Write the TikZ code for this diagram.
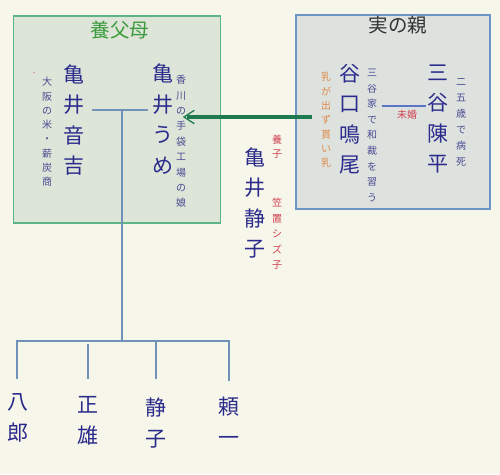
\documentclass[tikz,border=0pt]{standalone}
\usepackage{fontspec}
\setmainfont{Noto Sans CJK JP}
\usetikzlibrary{arrows.meta}
\definecolor{bg}{HTML}{F6F6EA}
\definecolor{navy}{HTML}{2B2B8C}
\definecolor{descblue}{HTML}{4A4A92}
\definecolor{redtxt}{HTML}{D0404E}
\definecolor{orangetxt}{HTML}{E08A48}
\definecolor{greentitle}{HTML}{3C9A3C}
\definecolor{lboxfill}{HTML}{DCE5D8}
\definecolor{lboxline}{HTML}{5DB585}
\definecolor{rboxfill}{HTML}{DDE2DF}
\definecolor{rboxline}{HTML}{6C95C5}
\definecolor{treeline}{HTML}{7091B8}
\definecolor{arrowgreen}{HTML}{1F7A50}
\tikzset{
  bigname/.style={font=\fontsize{21}{30.5}\selectfont, text=navy, align=center, inner sep=0pt},
  desc/.style={font=\fontsize{10}{#1}\selectfont, text=descblue, align=center, inner sep=0pt},
  reddesc/.style={font=\fontsize{10}{#1}\selectfont, text=redtxt, align=center, inner sep=0pt},
  orangedesc/.style={font=\fontsize{10}{#1}\selectfont, text=orangetxt, align=center, inner sep=0pt},
  titletext/.style={font=\fontsize{19.5}{22}\selectfont, inner sep=0pt},
  tree/.style={draw=treeline, line width=1.4pt},
  couple/.style={draw=treeline!80!blue, line width=1.1pt},
}
\begin{document}
\begin{tikzpicture}[x=1pt,y=-1pt]
\useasboundingbox[fill=bg] (0,0) rectangle (500,474);
% boxes
\node[draw=lboxline, fill=lboxfill, line width=1.3pt, minimum width=207pt, minimum height=207pt, inner sep=0pt] (fosterbox) at (117,119.5) {};
\node[draw=rboxline, fill=rboxfill, line width=1.3pt, minimum width=194pt, minimum height=194pt, inner sep=0pt] (realbox) at (393,112) {};
% titles
\node[titletext, text=greentitle] (fosterttl) at (120,30) {養父母};
\node[titletext, text=black!80] (realttl) at (398,25) {実の親};
% foster parents
\node[bigname] (otokichi) at (74,120) {亀\\井\\音\\吉};
\node[desc=14.3] (otokichidesc) at (47,132) {大\\阪\\の\\米\\・\\薪\\炭\\商};
\node[font=\fontsize{6}{6}\selectfont, text=redtxt, inner sep=0pt] (redmark) at (36,73) {、};
\node[bigname] (ume) at (163,119) {亀\\井\\う\\め};
\node[desc=15.4] (umedesc) at (181,141.5) {香\\川\\の\\手\\袋\\工\\場\\の\\娘};
% real parents
\node[bigname] (naruo) at (350,119) {谷\\口\\鳴\\尾};
\node[orangedesc=14.3] (naruodesc1) at (326,120) {乳\\が\\出\\ず\\貰\\い\\乳};
\node[desc=15.6] (naruodesc2) at (372,135.5) {三\\谷\\家\\で\\和\\裁\\を\\習\\う};
\node[bigname] (chinpei) at (438,119) {三\\谷\\陳\\平};
\node[desc=16] (chinpeidesc) at (461,122) {二\\五\\歳\\で\\病\\死};
\node[reddesc=12] (mikon) at (407,115) {未婚};
% adopted child
\node[bigname] (shizuko) at (255,203) {亀\\井\\静\\子};
\node[reddesc=13.5] (yoshi) at (277,146.5) {養\\子};
\node[reddesc=15.5] (kasagi) at (277,234) {笠\\置\\シ\\ズ\\子};
% children
\node[bigname] (hachiro) at (18,418) {八\\郎};
\node[bigname] (masao) at (88,421) {正\\雄};
\node[bigname] (shizuko2) at (156,423) {静\\子};
\node[bigname] (yoriichi) at (229,421) {頼\\一};
% connectors
\coordinate (fcL) at (92,110);
\coordinate (fcR) at (148,110);
\coordinate (fcM) at (122,111);
\coordinate (trunk) at (122,341);
\coordinate (barL) at (17,341);
\coordinate (barR) at (229,341);
\coordinate (d1) at (17,379);
\coordinate (d2a) at (88,344);
\coordinate (d2) at (88,379);
\coordinate (d3a) at (156,341);
\coordinate (d3) at (156,379);
\coordinate (d4) at (229,381);
\draw[tree] (fcL) -- (fcR);
\draw[tree] (fcM) -- (trunk);
\draw[tree] (d1) -- (barL) -- (barR) -- (d4);
\draw[tree] (d2a) -- (d2);
\draw[tree] (d3a) -- (d3);
\coordinate (rcL) at (382,106);
\coordinate (rcR) at (426,106);
\draw[couple] (rcL) -- (rcR);
\coordinate (arrS) at (312,117);
\coordinate (arrE) at (184,117);
\draw[draw=arrowgreen, line width=3.2pt] (arrS) -- ([xshift=3pt]arrE);
\draw[draw=arrowgreen, line width=1.3pt, line cap=round] ([xshift=10pt,yshift=-6.5pt]arrE) -- (arrE) -- ([xshift=10pt,yshift=6.5pt]arrE);
\end{tikzpicture}
\end{document}
